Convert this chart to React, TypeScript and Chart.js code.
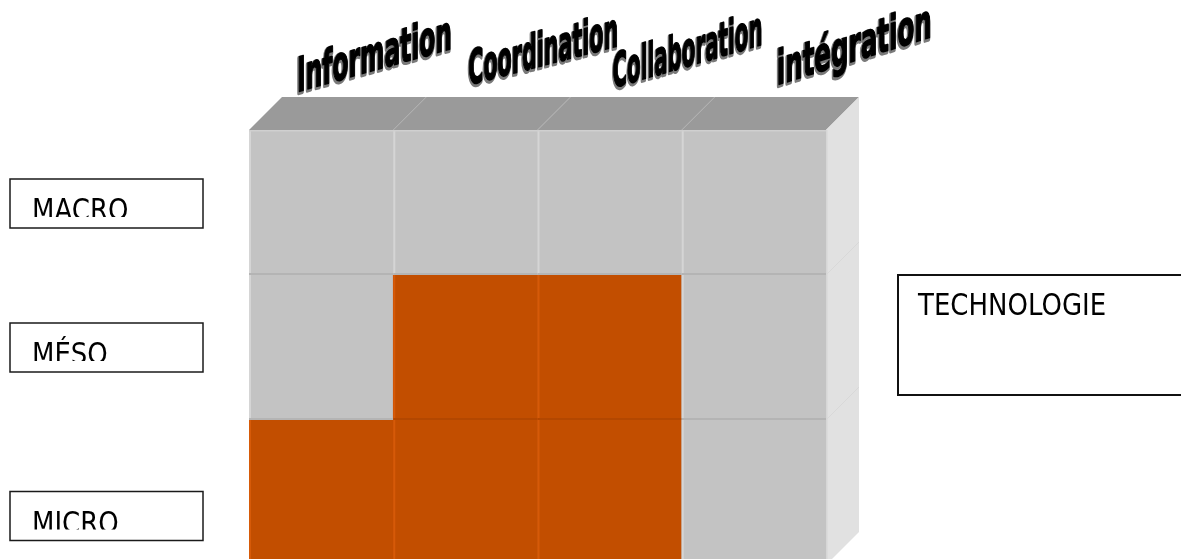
import React, { useEffect, useRef } from "react";
import { Chart, registerables } from "chart.js";

Chart.register(...registerables);

// ---- data ----
const categories = ["Information", "Coordination", "Collaboration", "intégration"];
const levels = ["MICRO", "MÉSO", "MACRO"]; // bottom -> top
const microValues = [1, 1, 1, 1];
const mesoValues = [1, 1, 1, 1];
const macroValues = [1, 1, 1, 1];
const microActive = [1, 1, 1, 0];
const mesoActive = [0, 1, 1, 0];
const macroActive = [0, 0, 0, 0];
const depthLabel = "TECHNOLOGIE";

// ---- styles ----
const GREY = "#c3c3c3";
const ORANGE = "#c24e00";
const GREY_EDGE = "#d5d5d5";
const ORANGE_EDGE = "#d65a08";
const GREY_SHADOW = "#b4b4b4";
const ORANGE_SHADOW = "#b34700";
const TOP_FACE = "#9a9a9a";
const SIDE_FACE = "#e1e1e1";
const DEPTH_DX = 33;
const DEPTH_DY = 33;
// header label placement (offset from column left edge / chart top), width and slope
const headerDx = [48, 75, 75, 95];
const headerDy = [38, 45, 42, 45];
const headerWidth = [155, 150, 150, 155];
const headerSlope = [0.28, 0.26, 0.29, 0.31];
// row label box vertical offsets from row centre (MICRO, MÉSO, MACRO)
const rowBoxDy = [23.5, 0, 1];

const valueRows = [microValues, mesoValues, macroValues];
const activeRows = [microActive, mesoActive, macroActive];

const cubePlugin = {
  id: "cube3d",
  afterDatasetsDraw(chart: any) {
    const ctx: CanvasRenderingContext2D = chart.ctx;
    const area = chart.chartArea;
    const metas = levels.map((_, r) => chart.getDatasetMeta(r));
    const rect = (r: number, i: number) => {
      const p = metas[r].data[i].getProps(["x", "y", "base", "width"], true);
      return {
        left: p.x - p.width / 2,
        right: p.x + p.width / 2,
        top: Math.min(p.y, p.base),
        bottom: Math.max(p.y, p.base),
        cx: p.x,
        cy: (p.y + p.base) / 2,
      };
    };
    const nCols = categories.length;
    const nRows = levels.length;
    ctx.save();
    // cell edges
    for (let r = 0; r < nRows; r++) {
      for (let i = 0; i < nCols; i++) {
        const c = rect(r, i);
        const on = activeRows[r][i];
        ctx.fillStyle = on ? ORANGE_EDGE : GREY_EDGE;
        ctx.fillRect(c.left, c.top, 2, c.bottom - c.top);
        ctx.fillStyle = on ? ORANGE_SHADOW : GREY_SHADOW;
        ctx.fillRect(c.left, c.bottom - 2, c.right - c.left, 2);
        if (r === nRows - 1) {
          ctx.fillStyle = on ? ORANGE_EDGE : "#d0d0d0";
          ctx.fillRect(c.left, c.top, c.right - c.left, 1.5);
        }
      }
    }
    // top face
    for (let i = 0; i < nCols; i++) {
      const c = rect(nRows - 1, i);
      ctx.beginPath();
      ctx.moveTo(c.left, c.top);
      ctx.lineTo(c.left + DEPTH_DX, c.top - DEPTH_DY);
      ctx.lineTo(c.right + DEPTH_DX, c.top - DEPTH_DY);
      ctx.lineTo(c.right, c.top);
      ctx.closePath();
      ctx.fillStyle = TOP_FACE;
      ctx.fill();
    }
    for (let i = 1; i < nCols; i++) {
      const c = rect(nRows - 1, i);
      ctx.beginPath();
      ctx.moveTo(c.left, c.top);
      ctx.lineTo(c.left + DEPTH_DX, c.top - DEPTH_DY);
      ctx.strokeStyle = "#b0b0b0";
      ctx.lineWidth = 1;
      ctx.stroke();
    }
    // right face
    for (let r = 0; r < nRows; r++) {
      const c = rect(r, nCols - 1);
      ctx.beginPath();
      ctx.moveTo(c.right, c.top);
      ctx.lineTo(c.right + DEPTH_DX, c.top - DEPTH_DY);
      ctx.lineTo(c.right + DEPTH_DX, c.bottom - DEPTH_DY);
      ctx.lineTo(c.right, c.bottom);
      ctx.closePath();
      ctx.fillStyle = SIDE_FACE;
      ctx.fill();
      ctx.fillStyle = "#d6d6d6";
      ctx.fillRect(c.right, c.top, 1.5, c.bottom - c.top);
      if (r < nRows - 1) {
        ctx.beginPath();
        ctx.moveTo(c.right, c.top);
        ctx.lineTo(c.right + DEPTH_DX, c.top - DEPTH_DY);
        ctx.strokeStyle = "#cfcfcf";
        ctx.lineWidth = 1;
        ctx.stroke();
      }
    }
    // header labels (WordArt-like)
    for (let i = 0; i < nCols; i++) {
      const c = rect(nRows - 1, i);
      const ax = c.left + headerDx[i];
      const ay = area.top - headerDy[i];
      ctx.save();
      ctx.font = 'bold 36px "DejaVu Sans", "Liberation Sans", sans-serif';
      const w = ctx.measureText(categories[i]).width;
      const sx = headerWidth[i] / w;
      const sy = 1.32;
      ctx.setTransform(sx, -headerSlope[i] * sx, 0, sy, ax, ay);
      ctx.textBaseline = "alphabetic";
      ctx.textAlign = "left";
      ctx.lineJoin = "round";
      ctx.strokeStyle = "#7a7a7a";
      ctx.lineWidth = 3.5;
      ctx.strokeText(categories[i], -1, 1);
      ctx.strokeStyle = "#000";
      ctx.lineWidth = 1.2;
      ctx.strokeText(categories[i], 0, 0);
      ctx.fillStyle = "#000";
      ctx.fillText(categories[i], 0, 0);
      ctx.restore();
    }
    // row label boxes
    for (let r = 0; r < nRows; r++) {
      const c = rect(r, 0);
      const boxH = 49;
      const boxTop = c.cy + rowBoxDy[r] - boxH / 2;
      const boxLeft = 10;
      const boxW = 193;
      ctx.save();
      ctx.fillStyle = "#fff";
      ctx.fillRect(boxLeft, boxTop, boxW, boxH);
      ctx.strokeStyle = "#1a1a1a";
      ctx.lineWidth = 1.5;
      ctx.strokeRect(boxLeft, boxTop, boxW, boxH);
      ctx.beginPath();
      ctx.rect(boxLeft, boxTop, boxW, 38);
      ctx.clip();
      ctx.translate(boxLeft + 22, boxTop + 41);
      ctx.scale(1, 1.15);
      ctx.font = '26px "DejaVu Sans", Tahoma, sans-serif';
      ctx.fillStyle = "#000";
      ctx.textBaseline = "alphabetic";
      ctx.fillText(levels[r], 0, 0);
      ctx.restore();
    }
    // depth (technology) box
    {
      const c = rect(1, nCols - 1);
      const bx = area.right + 72;
      const by = c.top;
      ctx.save();
      ctx.strokeStyle = "#111";
      ctx.lineWidth = 2;
      ctx.strokeRect(bx, by, 300, 120);
      ctx.translate(bx + 20, by + 40);
      ctx.scale(1, 1.15);
      ctx.font = '26px "DejaVu Sans", Tahoma, sans-serif';
      ctx.fillStyle = "#000";
      ctx.fillText(depthLabel, 0, 0);
      ctx.restore();
    }
    ctx.restore();
  },
};

export default function App() {
  const canvasRef = useRef<HTMLCanvasElement | null>(null);
  useEffect(() => {
    if (!canvasRef.current) return;
    const chart = new Chart(canvasRef.current, {
      type: "bar",
      data: {
        labels: categories,
        datasets: levels.map((lvl, r) => ({
          label: lvl,
          data: valueRows[r],
          backgroundColor: activeRows[r].map((a) => (a ? ORANGE : GREY)),
          borderWidth: 0,
          categoryPercentage: 1,
          barPercentage: 1,
        })),
      },
      options: {
        responsive: true,
        maintainAspectRatio: false,
        animation: false,
        layout: { padding: { left: 249, right: 355, top: 130, bottom: 0 } },
        scales: {
          x: { stacked: true, display: false },
          y: { stacked: true, display: false, min: 0, max: 3 },
        },
        plugins: { legend: { display: false }, tooltip: { enabled: false } },
      },
      plugins: [cubePlugin],
    } as any);
    return () => chart.destroy();
  }, []);
  return (
    <div
      style={{
        position: "fixed",
        left: 0,
        top: 0,
        width: 1181,
        height: 559,
        overflow: "hidden",
        background: "#fff",
      }}
    >
      <div style={{ position: "relative", width: 1181, height: 565 }}>
        <canvas ref={canvasRef} />
      </div>
    </div>
  );
}
